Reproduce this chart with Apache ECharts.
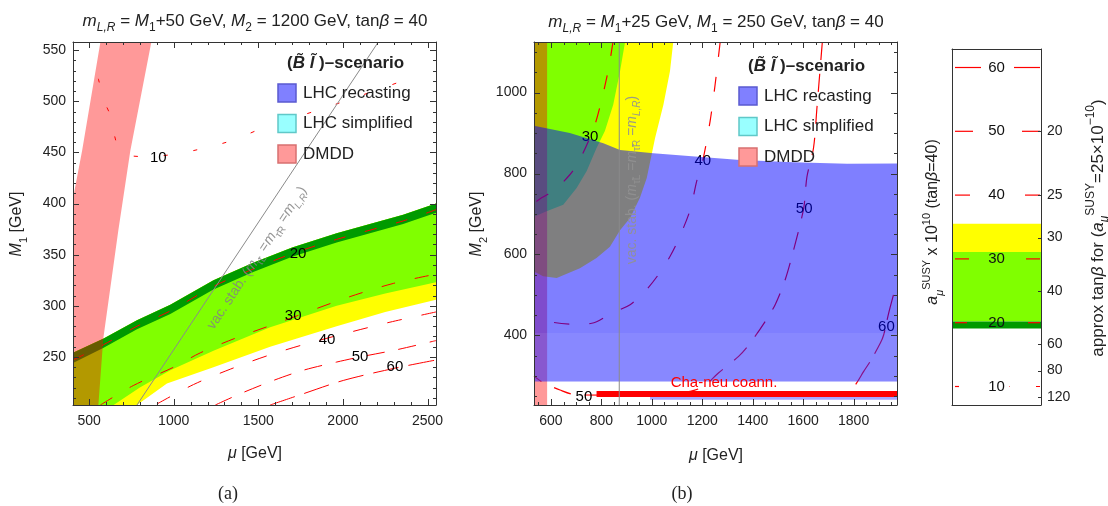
<!DOCTYPE html>
<html><head><meta charset="utf-8">
<script src="https://cdn.jsdelivr.net/npm/echarts@6/dist/echarts.min.js"></script>
<style>html,body{margin:0;padding:0;background:#fff}#c{width:1108px;height:506px}</style>
</head><body><div id="c"></div>
<script>
// ================= DATA =================
// Panel (a): mu [GeV] vs M1 [GeV]
const muTicksA = [500, 1000, 1500, 2000, 2500];
const m1TicksA = [250, 300, 350, 400, 450, 500, 550];
// a_mu band boundaries (mu, M1)
const darkTopA  = [[405,254],[586,268],[783,286],[980,301],[1235,325],[1470,342],[1700,357],[1963,371],[2356,389],[2550,400]];
const greenTopA = [[405,244],[586,259],[783,277],[980,292],[1235,316],[1470,333],[1700,348],[1963,362],[2356,380],[2550,391]];
const greenBotA = [[645,203],[800,220],[980,237],[1235,256],[1570,279],[1963,300],[2250,312],[2550,323]];
const yellowBotA = [[783,203],[960,224],[1235,240],[1570,260],[1963,280],[2250,294],[2550,306]];
const dmddA = [[567,558],[868,558],[744,452],[673,374],[584,268],[555,203],[405,203],[405,405],[459,452]];
const vacA = [[783,203],[2209,558]];
const c10A = [[555,522],[590,500],[626,486],[667,457],[720,448],[820,446],[997,448],[1174,454],[1351,462],[1529,474],[1883,493],[2200,511],[2420,524]];
const c20A = [[405,247],[586,262],[783,280],[980,295],[1235,319],[1470,336],[1700,351],[1963,365],[2356,383],[2550,394]];
const c30A = [[567,203],[761,222],[1000,240],[1157,254],[1375,269],[1611,283],[2024,308],[2300,322],[2550,331]];
const c40A = [[901,204],[1117,223],[1334,238],[1550,251],[1766,262],[2061,275],[2278,284],[2550,294]];
const c50A = [[1246,203],[1393,214],[1589,227],[1766,237],[1963,245],[2101,250],[2317,257],[2550,266]];
const c60A = [[1570,203],[1766,214],[2002,227],[2307,239],[2550,247]];
const labelsA = [[909,445,'10'],[1735,351,'20'],[1706,290,'30'],[1906,267,'40'],[2101,250,'50'],[2307,240,'60']];

// Panel (b): mu [GeV] vs M2 [GeV]
const muTicksB = [600, 800, 1000, 1200, 1400, 1600, 1800];
const m2TicksB = [400, 600, 800, 1000];
const yellowB = [[533,1125],[1085,1125],[1072,1053],[1046,970],[1013,888],[980,789],[953,740],[914,690],[874,660],[834,619],[781,591],[715,566],[623,542],[569,546],[533,558]];
const greenB = [[533,1125],[894,1125],[874,1053],[847,970],[814,905],[781,863],[742,806],[702,764],[649,723],[583,707],[533,693]];
const blueB = [[533,918],[675,900],[808,875],[874,858],[1006,850],[1337,834],[1560,828],[1774,824],[1972,825],[1972,286],[533,286]];
const blueLightB = [[533,406],[1972,406],[1972,286],[533,286]];
const blueStripB = [[993,249],[1972,249],[1972,241],[993,241]];
const pinkB = [[533,228],[585,228],[585,1125],[533,1125]];
const coannB = [[781,255],[1972,255]];
const vacB = [[871,228],[871,1125]];
const c30B = [[846,1125],[828,1057],[795,966],[768,909],[708,826],[675,797],[616,760],[563,740],[533,727]];
const c40B = [[1271,1125],[1251,1020],[1231,929],[1202,832],[1178,781],[1152,710],[1105,636],[1072,595],[1026,550],[973,509],[914,476],[841,455],[762,430],[682,428],[603,433],[533,448]];
const c50B = [[1676,1125],[1668,1064],[1655,965],[1641,863],[1615,792],[1602,714],[1562,611],[1529,538],[1489,476],[1450,435],[1390,381],[1344,348],[1264,307],[1205,274],[1152,262],[993,252],[702,253],[636,265],[563,286],[533,300]];
const c60B = [[1958,500],[1939,455],[1919,401],[1906,381],[1866,336],[1840,311],[1807,278],[1767,252]];
const labelsB = [[755,890,'30'],[1202,832,'40'],[1604,712,'50'],[1930,422,'60'],[731,249,'50']];

// Colour bar: a_mu^SUSY x 10^10
const contourValues = [10, 20, 30, 40, 50, 60];
const barYellow = [31.1, 35.5];
const barGreen = [20.2, 31.1];
const barDark = [19.1, 20.2];
const tanbTicks = [20, 25, 30, 40, 60, 80, 120];

// ================= STYLE / LAYOUT =================
const F = 'Liberation Sans, Arial, sans-serif';
const INK = '#222';
const dashStyle = {10:[4,26], 20:[12,20], 30:[14,20], 40:[15,20], 50:[18,14], 60:[26,10]};
const YEL = '#ffff00', GRN = '#80ff00', DGRN = '#009a00';

function steps(a, b, s, skip) { const r = []; for (let v = a; v <= b + 1e-9; v += s) if (!skip || skip.indexOf(v) < 0) r.push(v); return r; }

const frameLine = { show: true, onZero: false, lineStyle: { color: '#333', width: 1 } };
function ax(gi, pos, min, max, labelVals, margin, formatter) {
  return { type: 'value', gridIndex: gi, position: pos, min: min, max: max, z: 10, silent: true,
    splitLine: { show: false }, axisLine: frameLine, axisTick: { show: false },
    axisLabel: labelVals ? { show: true, customValues: labelVals, margin: margin, color: INK, fontSize: 14, fontFamily: F,
      formatter: formatter || (v => String(v)) } : { show: false } };
}

function poly(ai, pts, fill, z) {
  return { type: 'custom', xAxisIndex: ai, yAxisIndex: ai, z: z, silent: true, animation: false, data: [pts[0]],
    renderItem: function (params, api) {
      const cs = params.coordSys;
      return { type: 'polygon', shape: { points: pts.map(p => api.coord(p)) }, style: { fill: fill },
        clipPath: { type: 'rect', shape: { x: cs.x, y: cs.y, width: cs.width, height: cs.height } } };
    } };
}
function contour(ai, pts, val, z, w) {
  return { type: 'line', xAxisIndex: ai, yAxisIndex: ai, z: z, data: pts, symbol: 'none', smooth: 0.3, silent: true, clip: true, animation: false,
    lineStyle: { color: '#ff0000', width: w || 1, type: dashStyle[val] } };
}
function solid(ai, pts, color, width, z) {
  return { type: 'line', xAxisIndex: ai, yAxisIndex: ai, z: z, data: pts, symbol: 'none', silent: true, clip: true, animation: false,
    lineStyle: { color: color, width: width, type: 'solid' } };
}
function labels(ai, arr, z, color) {
  return { type: 'custom', xAxisIndex: ai, yAxisIndex: ai, z: z, silent: true, animation: false,
    data: arr.map(d => [d[0], d[1]]),
    renderItem: function (params, api) {
      const p = api.coord([api.value(0), api.value(1)]);
      return { type: 'text', x: p[0], y: p[1], style: { text: arr[params.dataIndex][2], fill: color || '#000', font: '15px ' + F, align: 'center', verticalAlign: 'middle' } };
    } };
}
// frame tick marks (inward) drawn through the axes' scales
function ticks(ai, anchor, spec) {
  return { type: 'custom', xAxisIndex: ai, yAxisIndex: ai, z: 20, silent: true, animation: false, data: [anchor],
    renderItem: function (params, api) {
      const cs = params.coordSys, L = cs.x, R = cs.x + cs.width, T = cs.y, B = cs.y + cs.height;
      const ch = [];
      const st = { stroke: '#333', lineWidth: 1 };
      const seg = (x1, y1, x2, y2) => ch.push({ type: 'line', shape: { x1: x1, y1: y1, x2: x2, y2: y2 }, style: st });
      (spec.x || []).forEach(([vals, len]) => vals.forEach(v => {
        const x = Math.round(api.coord([v, anchor[1]])[0]) + 0.5;
        seg(x, B, x, B - len); seg(x, T, x, T + len);
      }));
      (spec.y || []).forEach(([vals, len, side]) => vals.forEach(v => {
        const y = Math.round(api.coord([anchor[0], v])[1]) + 0.5;
        if (side !== 'right') seg(L, y, L + len, y);
        if (side !== 'left') seg(R, y, R - len, y);
      }));
      return { type: 'group', children: ch };
    } };
}

// colour bar
const barSeries = [
  poly(4, [[0, barYellow[0]], [1, barYellow[0]], [1, barYellow[1]], [0, barYellow[1]]], YEL, 1),
  poly(4, [[0, barGreen[0]], [1, barGreen[0]], [1, barGreen[1]], [0, barGreen[1]]], GRN, 1),
  poly(4, [[0, barDark[0]], [1, barDark[0]], [1, barDark[1]], [0, barDark[1]]], DGRN, 1),
  { type: 'custom', xAxisIndex: 4, yAxisIndex: 4, z: 2, silent: true, animation: false,
    data: contourValues.map(v => [0.5, v]),
    renderItem: function (params, api) {
      const v = contourValues[params.dataIndex];
      const p = api.coord([0.5, v]);
      const cs = params.coordSys;
      const x0 = cs.x + 3, x1 = cs.x + cs.width - 1, xc = p[0];
      const ls = { stroke: '#ff0000', lineWidth: 1.2, lineDash: dashStyle[v], fill: null };
      return { type: 'group', children: [
        { type: 'polyline', shape: { points: [[x0, p[1]], [xc - 13, p[1]]] }, style: Object.assign({}, ls) },
        { type: 'polyline', shape: { points: [[x1, p[1]], [xc + 13, p[1]]] }, style: Object.assign({}, ls) },
        { type: 'text', x: xc, y: p[1], style: { text: String(v), fill: '#111', font: '15px ' + F, align: 'center', verticalAlign: 'middle' } }
      ] };
    } },
  ticks(4, [0.5, 30], { y: [[tanbTicks.map(t => 1000 / t), 3, 'right']] })
];

const xAxes = [
  ax(0, 'bottom', 405, 2550, muTicksA, 9), ax(0, 'top', 405, 2550),
  ax(1, 'bottom', 533, 1972, muTicksB, 9), ax(1, 'top', 533, 1972),
  ax(2, 'bottom', 0, 1), ax(2, 'top', 0, 1)
];
const yAxes = [
  ax(0, 'left', 203, 558, m1TicksA, 7), ax(0, 'right', 203, 558),
  ax(1, 'left', 228, 1125, m2TicksB, 7), ax(1, 'right', 228, 1125),
  ax(2, 'left', 7.1, 62.9), ax(2, 'right', 7.1, 62.9, tanbTicks.map(t => 1000 / t), 6, v => String(Math.round(1000 / v)))
];

// rich text styles
function rich(fs, color) {
  color = color || INK;
  const lh = Math.round(fs * 1.5);
  const s = Math.round(fs * 0.7);
  return {
    n: { fontSize: fs, fontFamily: F, fill: color, lineHeight: lh },
    i: { fontSize: fs, fontFamily: F, fontStyle: 'italic', fill: color, lineHeight: lh },
    b: { fontSize: fs, fontFamily: F, fontWeight: 'bold', fill: color, lineHeight: lh },
    bi: { fontSize: fs, fontFamily: F, fontWeight: 'bold', fontStyle: 'italic', fill: color, lineHeight: lh },
    sub: { fontSize: s, fontFamily: F, fill: color, verticalAlign: 'bottom', lineHeight: s + 2 },
    isub: { fontSize: s, fontFamily: F, fontStyle: 'italic', fill: color, verticalAlign: 'bottom', lineHeight: s + 2 },
    sup: { fontSize: s, fontFamily: F, fill: color, verticalAlign: 'top', lineHeight: s + 2 }
  };
}
function rt(x, y, text, fs, opt) {
  opt = opt || {};
  return { type: 'text', x: x, y: y, rotation: opt.rot || 0, z: 100,
    style: { text: text, rich: rich(fs, opt.color), align: opt.align || 'center', verticalAlign: 'middle', font: fs + 'px ' + F, fill: opt.color || INK } };
}
function legend(x, y) {
  const items = [['LHC recasting', '#8080ff', '#5a5ad0'], ['LHC simplified', '#99ffff', '#60c8c8'], ['DMDD', '#ff9999', '#d87070']];
  const g = [rt(x + 9, y, '{b|(}{bi|B\u0303 l\u0303}{b| )\u2013scenario}', 17, { align: 'left' })];
  items.forEach((it, k) => {
    const yy = y + 30 + k * 30.5;
    g.push({ type: 'rect', z: 100, shape: { x: x, y: yy - 9, width: 18, height: 18 }, style: { fill: it[1], stroke: it[2], lineWidth: 1.5 } });
    g.push({ type: 'text', z: 100, x: x + 25, y: yy, style: { text: it[0], font: '17px ' + F, fill: INK, align: 'left', verticalAlign: 'middle' } });
  });
  return g;
}

const graphics = [].concat(
  [
    rt(255, 21, '{i|m}{isub|L,R}{n| = }{i|M}{sub|1}{n|+50 GeV, }{i|M}{sub|2}{n| = 1200 GeV, tan}{i|\u03b2}{n| = 40}', 17),
    rt(716, 22, '{i|m}{isub|L,R}{n| = }{i|M}{sub|1}{n|+25 GeV, }{i|M}{sub|1}{n| = 250 GeV, tan}{i|\u03b2}{n| = 40}', 17),
    rt(255, 454, '{i|\u03bc}{n| [GeV]}', 16),
    rt(716, 456, '{i|\u03bc}{n| [GeV]}', 16),
    rt(17, 224, '{i|M}{sub|1}{n| [GeV]}', 16, { rot: Math.PI / 2 }),
    rt(477, 224, '{i|M}{sub|2}{n| [GeV]}', 16, { rot: Math.PI / 2 }),
    { type: 'text', x: 228, y: 494, z: 100, style: { text: '(a)', font: '18px Liberation Serif, DejaVu Serif, serif', fill: INK, align: 'center', verticalAlign: 'middle' } },
    { type: 'text', x: 682, y: 494, z: 100, style: { text: '(b)', font: '18px Liberation Serif, DejaVu Serif, serif', fill: INK, align: 'center', verticalAlign: 'middle' } },
    rt(257, 258, '{n|vac. stab. (}{i|m}{sub|\u03c4\u0303L}{n| =}{i|m}{sub|\u03c4\u0303R}{n| =}{i|m}{isub|L,R}{n|)}', 14, { rot: 0.9835, color: 'rgba(130,130,130,0.85)' }),
    rt(632, 180, '{n|vac. stab. (}{i|m}{sub|\u03c4\u0303L}{n| =}{i|m}{sub|\u03c4\u0303R}{n| =}{i|m}{isub|L,R}{n|)}', 14, { rot: Math.PI / 2, color: 'rgba(145,145,145,0.9)' }),
    { type: 'text', x: 724, y: 383, z: 100, style: { text: 'Cha-neu coann.', font: '15px ' + F, fill: '#ff0000', align: 'center', verticalAlign: 'middle' } },
    rt(933, 222, '{i|a}{isub|\u03bc}{sup|SUSY}{n| x 10}{sup|10}{n| (tan}{i|\u03b2}{n|=40)}', 16, { rot: Math.PI / 2 }),
    rt(1098, 228, '{n|approx tan}{i|\u03b2}{n| for (}{i|a}{isub|\u03bc}{sup|SUSY}{n|=25\u00d710}{sup|\u221210}{n|)}', 17, { rot: Math.PI / 2 })
  ],
  legend(278, 63),
  legend(739, 66)
);

const series = [
  // panel (a)
  poly(0, darkTopA.concat(yellowBotA.slice().reverse(), [[405, 203]]), YEL, 1),
  poly(0, darkTopA.concat(greenBotA.slice().reverse(), [[405, 203]]), GRN, 1),
  poly(0, darkTopA.concat(greenTopA.slice().reverse()), DGRN, 1),
  contour(0, c10A, 10, 2), contour(0, c20A, 20, 2), contour(0, c30A, 30, 2),
  contour(0, c40A, 40, 2), contour(0, c50A, 50, 2), contour(0, c60A, 60, 2),
  labels(0, labelsA, 3),
  poly(0, dmddA, 'rgba(255,0,0,0.4)', 4),
  solid(0, vacA, '#8a8a8a', 1, 5),
  ticks(0, [1000, 300], { x: [[muTicksA, 6], [steps(600, 2500, 100, muTicksA), 3]], y: [[m1TicksA, 6], [steps(210, 550, 10, m1TicksA), 3]] }),
  // panel (b)
  poly(2, yellowB, YEL, 1),
  poly(2, greenB, GRN, 1),
  contour(2, c30B, 30, 2, 1.2), contour(2, c40B, 40, 2, 1.2), contour(2, c50B, 50, 2, 1.2), contour(2, c60B, 60, 2, 1.2),
  labels(2, labelsB, 3),
  poly(2, pinkB, 'rgba(255,0,0,0.4)', 4),
  poly(2, blueB, 'rgba(0,0,255,0.5)', 5),
  poly(2, blueLightB, 'rgba(255,255,255,0.07)', 5),
  poly(2, blueStripB, 'rgba(0,0,255,0.35)', 5),
  solid(2, coannB, '#ff0000', 6, 6),
  solid(2, vacB, '#8a8a8a', 1, 6),
  ticks(2, [1000, 600], { x: [[muTicksB, 6], [steps(550, 1950, 50, muTicksB), 3]], y: [[m2TicksB, 6], [steps(250, 1100, 50, m2TicksB), 3]] })
].concat(barSeries);

const chart = echarts.init(document.getElementById('c'), null, { renderer: 'canvas', width: 1108, height: 506 });
chart.setOption({
  animation: false,
  backgroundColor: '#fff',
  textStyle: { fontFamily: F },
  grid: [
    { left: 73, top: 42, width: 363, height: 363, outerBoundsMode: 'none', containLabel: false },
    { left: 534, top: 42, width: 363, height: 363, outerBoundsMode: 'none', containLabel: false },
    { left: 952, top: 49, width: 89, height: 356, outerBoundsMode: 'none', containLabel: false }
  ],
  xAxis: xAxes,
  yAxis: yAxes,
  series: series,
  graphic: graphics
});
</script>
</body></html>
